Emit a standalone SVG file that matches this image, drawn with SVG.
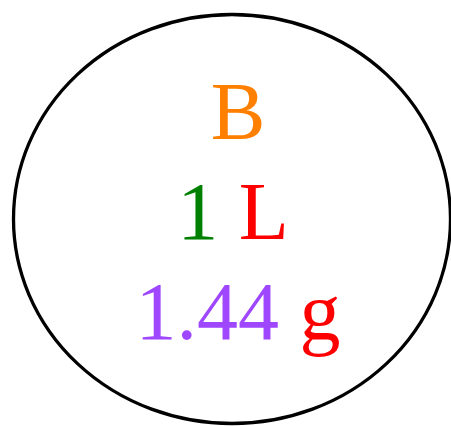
<svg xmlns="http://www.w3.org/2000/svg" width="451" height="426" viewBox="0 0 451 426">
<style>
.t{font-family:"Times New Roman","Liberation Serif",Times,serif;font-size:82px;text-anchor:middle}
</style>
<rect width="451" height="426" fill="#fff"/>
<g id="node">
<ellipse cx="232" cy="219" rx="218.5" ry="204.5" fill="none" stroke="#000" stroke-width="3.3"/>
<text class="t" x="238" y="139" fill="#FF8000">B</text>
<text class="t" x="233" y="239"><tspan fill="#008000">1</tspan> <tspan fill="#FF0000">L</tspan></text>
<text class="t" x="238" y="339"><tspan fill="#9F47FF">1.44</tspan> <tspan fill="#FF0000">g</tspan></text>
</g>
<g id="connectors"/>
</svg>
